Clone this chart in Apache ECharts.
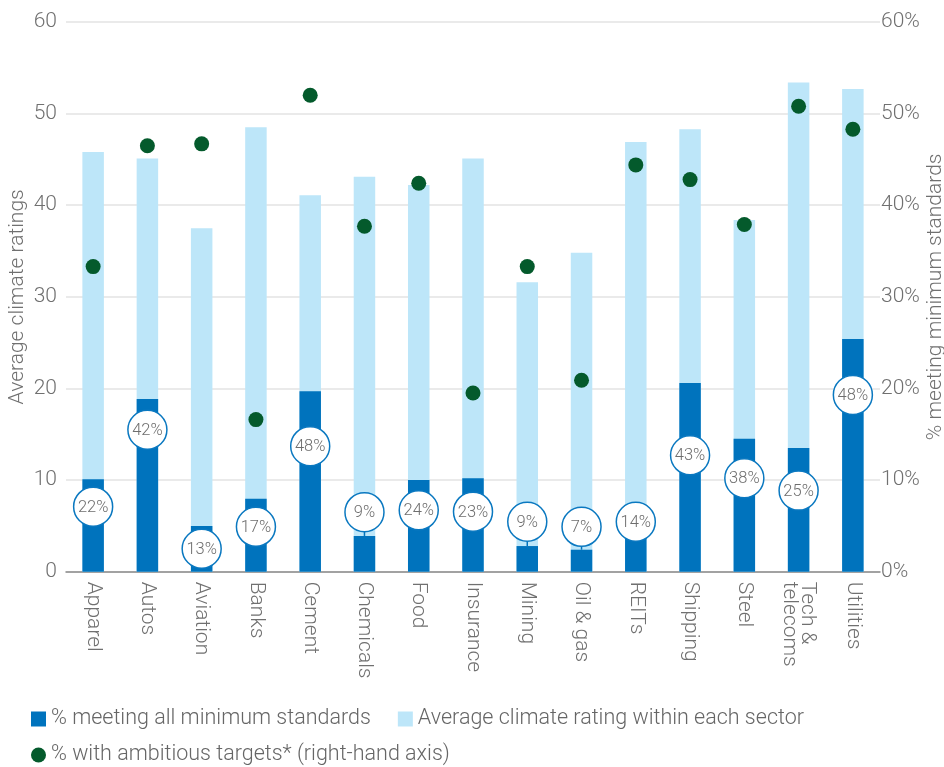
<!DOCTYPE html>
<html>
<head>
<meta charset="utf-8">
<script src="https://cdn.jsdelivr.net/npm/echarts@6/dist/echarts.min.js"></script>
<style>
html,body{margin:0;padding:0;background:#fff;}
#chart{width:944px;height:767px;}
</style>
</head>
<body>
<div id="chart"></div>
<script>
const categories = ['Apparel','Autos','Aviation','Banks','Cement','Chemicals','Food','Insurance','Mining','Oil & gas','REITs','Shipping','Steel','Tech &\ntelecoms','Utilities'];
const avgRating = [45.8, 45.1, 37.5, 48.5, 41.1, 43.1, 42.2, 45.1, 31.6, 34.8, 46.9, 48.3, 38.4, 53.4, 52.7];
const meetingBar = [10.1, 18.85, 5.0, 7.95, 19.7, 3.9, 10.0, 10.2, 2.8, 2.4, 6.6, 20.6, 14.5, 13.5, 25.4];
const meetingShare = ['22%','42%','13%','17%','48%','9%','24%','23%','9%','7%','14%','43%','38%','25%','48%'];
const badgeAt = [7.1, 15.5, 2.5, 4.9, 13.7, 6.5, 6.7, 6.55, 5.45, 4.9, 5.45, 12.7, 10.2, 8.85, 19.3];
const ambitious = [33.3, 46.5, 46.7, 16.6, 52.0, 37.7, 42.4, 19.5, 33.3, 20.9, 44.4, 42.8, 37.9, 50.8, 48.3];
const leftTicks = [0, 10, 20, 30, 40, 50, 60];

const FONT = 'Roboto';
const GREY = '#707070';
const DARK = '#0073bd';
const LIGHT = '#bde6f9';
const GREEN = '#045a2c';
const FS = 21;

const badgeData = categories.map((c, i) => [i, badgeAt[i], meetingBar[i], meetingShare[i]]);

const chart = echarts.init(document.getElementById('chart'), null, {renderer: 'canvas'});
chart.setOption({
  animation: false,
  textStyle: {fontFamily: FONT, fontWeight: 300},
  grid: {left: 66, right: 64, top: 22, bottom: 195.3, containLabel: false, outerBoundsMode: 'none'},
  legend: [
    {
      left: 31, top: 708, padding: 0, itemWidth: 15, itemHeight: 15, itemGap: 27,
      icon: 'rect',
      data: ['% meeting all minimum standards', 'Average climate rating within each sector'],
      textStyle: {fontFamily: FONT, fontWeight: 300, fontSize: 21.5, color: '#666'}
    },
    {
      left: 31, top: 744, padding: 0, itemWidth: 15, itemHeight: 15,
      icon: 'circle',
      data: ['% with ambitious targets* (right-hand axis)'],
      textStyle: {fontFamily: FONT, fontWeight: 300, fontSize: 21.5, color: '#666'}
    }
  ],
  xAxis: {
    type: 'category',
    data: categories,
    axisTick: {show: false},
    axisLine: {lineStyle: {color: '#8a8a8a', width: 1.5}},
    axisLabel: {rotate: -90, interval: 0, margin: 10, fontSize: FS, color: GREY, fontFamily: FONT, fontWeight: 300, lineHeight: 18}
  },
  yAxis: [
    {
      type: 'value', min: 0, max: 60, interval: 10,
      name: 'Average climate ratings', nameLocation: 'middle', nameGap: 38, nameMoveOverlap: false,
      nameTextStyle: {fontSize: FS, color: GREY, fontFamily: FONT, fontWeight: 300},
      axisLabel: {fontSize: FS, color: GREY, margin: 9, fontFamily: FONT, fontWeight: 300,
        formatter: v => leftTicks.includes(v) ? String(v) : ''},
      splitLine: {lineStyle: {color: '#e3e3e3', width: 1.5}},
      axisLine: {show: false}, axisTick: {show: false}
    },
    {
      type: 'value', min: 0, max: 60, interval: 10,
      name: '% meeting minimum standards', nameLocation: 'middle', nameGap: 45, nameMoveOverlap: false,
      nameTextStyle: {fontSize: FS, color: GREY, fontFamily: FONT, fontWeight: 300},
      axisLabel: {fontSize: FS, color: GREY, margin: 1, fontFamily: FONT, fontWeight: 300, formatter: '{value}%'},
      splitLine: {show: false},
      axisLine: {show: false}, axisTick: {show: false}
    }
  ],
  series: [
    {
      name: 'Average climate rating within each sector',
      type: 'bar', data: avgRating, barWidth: 21.5,
      itemStyle: {color: LIGHT}, z: 1
    },
    {
      name: '% meeting all minimum standards',
      type: 'bar', data: meetingBar, barWidth: 21.5, barGap: '-100%',
      itemStyle: {color: DARK}, z: 2
    },
    {
      name: 'badges',
      type: 'custom',
      data: badgeData,
      z: 5,
      renderItem: function (params, api) {
        const idx = api.value(0);
        const p = api.coord([idx, api.value(1)]);
        const t = api.coord([idx, api.value(2)]);
        const r = 19.5;
        const children = [];
        if (t[1] > p[1] + r) {
          children.push({type: 'line', shape: {x1: p[0], y1: p[1] + r, x2: p[0], y2: t[1]},
            style: {stroke: DARK, lineWidth: 1.5}});
        }
        children.push({type: 'circle', shape: {cx: p[0], cy: p[1], r: r},
          style: {fill: '#fff', stroke: '#0a78c0', lineWidth: 1.5}});
        children.push({type: 'text', style: {x: p[0], y: p[1] + 1, text: meetingShare[params.dataIndex],
          align: 'center', verticalAlign: 'middle', fill: '#6e6e6e', font: '300 16.5px Roboto'}});
        return {type: 'group', children: children};
      }
    },
    {
      name: '% with ambitious targets* (right-hand axis)',
      type: 'scatter', yAxisIndex: 1, data: ambitious, symbolSize: 15,
      itemStyle: {color: GREEN, opacity: 1}, z: 10
    }
  ]
});
</script>
</body>
</html>
